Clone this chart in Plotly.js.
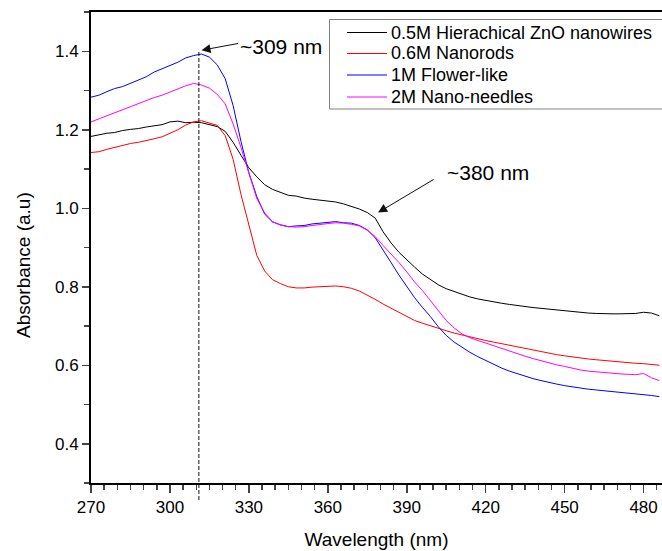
<!DOCTYPE html>
<html>
<head>
<meta charset="utf-8">
<script src="https://cdn.plot.ly/plotly-3.0.1.min.js"></script>
<style>html,body{margin:0;padding:0;background:#fff;}#chart{width:662px;height:551px;}</style>
</head>
<body>
<div id="chart"></div>
<script>
// Wavelength grid (nm)
const wavelength = [270,273,276,279,282,285,288,291,294,297,300,303,306,309,312,315,318,321,324,327,330,333,336,339,342,345,348,351,354,357,360,363,366,369,372,375,378,381,384,387,390,393,396,399,402,405,408,411,414,417,420,423,426,429,432,435,438,441,444,447,450,453,456,459,462,465,468,471,474,477,480,483,486];

const nanowires05M = [1.183,1.187,1.191,1.193,1.198,1.201,1.203,1.207,1.210,1.213,1.220,1.222,1.218,1.219,1.218,1.213,1.208,1.196,1.168,1.135,1.103,1.080,1.060,1.048,1.040,1.033,1.031,1.026,1.023,1.021,1.019,1.016,1.011,1.005,0.998,0.989,0.975,0.940,0.912,0.888,0.868,0.850,0.832,0.818,0.805,0.795,0.788,0.780,0.774,0.769,0.765,0.762,0.758,0.755,0.752,0.749,0.747,0.745,0.743,0.741,0.739,0.736,0.734,0.733,0.732,0.731,0.731,0.731,0.731,0.732,0.735,0.733,0.726];

const nanorods06M = [1.142,1.144,1.150,1.155,1.160,1.165,1.168,1.172,1.177,1.182,1.190,1.200,1.212,1.220,1.223,1.218,1.211,1.185,1.125,1.035,0.955,0.880,0.840,0.818,0.808,0.800,0.797,0.797,0.799,0.800,0.801,0.802,0.800,0.796,0.789,0.779,0.768,0.756,0.746,0.736,0.724,0.714,0.707,0.700,0.694,0.688,0.682,0.677,0.672,0.667,0.663,0.659,0.655,0.650,0.646,0.642,0.638,0.634,0.630,0.627,0.624,0.621,0.618,0.616,0.614,0.612,0.610,0.608,0.607,0.605,0.604,0.602,0.600];

const flower1M = [1.283,1.288,1.297,1.305,1.310,1.318,1.328,1.335,1.347,1.355,1.365,1.372,1.383,1.389,1.393,1.385,1.365,1.330,1.262,1.170,1.090,1.030,0.985,0.965,0.958,0.953,0.955,0.956,0.960,0.962,0.964,0.966,0.963,0.962,0.956,0.945,0.925,0.895,0.862,0.830,0.800,0.772,0.747,0.724,0.698,0.676,0.659,0.645,0.633,0.622,0.612,0.602,0.593,0.585,0.578,0.571,0.566,0.561,0.556,0.552,0.548,0.545,0.541,0.539,0.537,0.535,0.533,0.531,0.529,0.527,0.526,0.523,0.520];

const needles2M = [1.220,1.228,1.236,1.242,1.252,1.260,1.266,1.274,1.282,1.288,1.296,1.305,1.312,1.318,1.314,1.306,1.290,1.266,1.215,1.155,1.088,1.025,0.988,0.966,0.957,0.953,0.952,0.953,0.956,0.959,0.961,0.963,0.962,0.959,0.955,0.944,0.928,0.905,0.884,0.862,0.838,0.812,0.790,0.765,0.738,0.714,0.695,0.680,0.670,0.663,0.656,0.650,0.643,0.636,0.629,0.623,0.617,0.611,0.606,0.601,0.597,0.592,0.588,0.585,0.583,0.581,0.579,0.578,0.577,0.576,0.579,0.568,0.561];

const seriesNames = ["0.5M Hierachical ZnO nanowires","0.6M Nanorods","1M Flower-like","2M Nano-needles"];
const seriesColors = ["#000000","#ff0000","#0000ff","#ff00ff"];
const xTickVals = [270,300,330,360,390,420,450,480];

const xRange = [270, 487];
const yRange = [0.3, 1.5];
const peakLine = 311;

const W = 662, H = 551, M = {l: 91, r: 0, t: 12, b: 68};
const plotW = W - M.l - M.r, plotH = H - M.t - M.b;
// pixel -> paper helpers for decorations
const pxX = (p) => (p - M.l) / plotW;
const pxY = (p) => (H - M.b - p) / plotH;
const dataToPaperX = (v) => (v - xRange[0]) / (xRange[1] - xRange[0]);

const font = "Arial, 'Liberation Sans', sans-serif";
const allY = [nanowires05M, nanorods06M, flower1M, needles2M];
const traces = allY.map((ys, i) => ({
  x: wavelength, y: ys, type: 'scatter', mode: 'lines',
  name: seriesNames[i], line: {color: seriesColors[i], width: 1}
}));

// custom legend (box, line samples, labels) matching the reference layout
const legendRows = [32.5, 53.5, 75, 97];
const shapes = [
  {type: 'line', xref: 'paper', yref: 'paper',
   x0: dataToPaperX(peakLine), x1: dataToPaperX(peakLine), y0: pxY(52), y1: pxY(502),
   line: {color: '#111', width: 1, dash: '4px,2px'}},
  {type: 'rect', xref: 'paper', yref: 'paper', x0: pxX(329.5), x1: pxX(700), y0: pxY(19.5), y1: pxY(109),
   line: {color: '#808080', width: 1}, fillcolor: '#ffffff', layer: 'above'}
];
const legendAnn = [];
seriesNames.forEach((name, i) => {
  shapes.push({type: 'line', xref: 'paper', yref: 'paper', x0: pxX(347), x1: pxX(387),
    y0: pxY(legendRows[i]), y1: pxY(legendRows[i]), line: {color: seriesColors[i], width: 1}, layer: 'above'});
  legendAnn.push({xref: 'paper', yref: 'paper', x: pxX(389), y: pxY(legendRows[i]), text: name,
    showarrow: false, xanchor: 'left', yanchor: 'middle', font: {family: font, size: 18, color: '#000'}});
});

const layout = {
  width: W, height: H,
  margin: M,
  paper_bgcolor: '#fff', plot_bgcolor: '#fff',
  font: {family: font, color: '#000', size: 16},
  showlegend: false,
  xaxis: {
    range: xRange, tickvals: xTickVals, ticks: 'outside', ticklen: 8, tickwidth: 1.5,
    showline: true, linewidth: 2, linecolor: '#000', mirror: true,
    showgrid: false, zeroline: false,
    tickfont: {family: font, size: 17},
    minor: {dtick: 5, tick0: 270, ticks: 'outside', ticklen: 5, tickwidth: 1.5, showgrid: false},
    title: {text: 'Wavelength (nm)', font: {family: font, size: 19}, standoff: 16}
  },
  yaxis: {
    range: yRange, tick0: 0, dtick: 0.2, tickformat: '.1f', ticks: 'outside', ticklen: 7, tickwidth: 1.5,
    showline: true, linewidth: 2, linecolor: '#000', mirror: false,
    showgrid: false, zeroline: false,
    tickfont: {family: font, size: 17},
    minor: {dtick: 0.1, tick0: 0, ticks: 'outside', ticklen: 5, tickwidth: 1.5, showgrid: false}
  },
  shapes: shapes,
  annotations: [
    {xref: 'paper', yref: 'paper', x: pxX(23), y: pxY(265), text: 'Absorbance (a.u)', textangle: -90,
     showarrow: false, font: {family: font, size: 19}, xanchor: 'center', yanchor: 'middle'},
    {x: 312.0, y: 1.4026, xref: 'x', yref: 'y', text: '', showarrow: true, ax: 38, ay: -7,
     arrowhead: 2, arrowsize: 1.8, arrowwidth: 1, arrowcolor: '#111'},
    {x: 342.2, y: 1.413, xref: 'x', yref: 'y', text: '~309 nm', showarrow: false,
     font: {family: font, size: 21}, xanchor: 'center', yanchor: 'middle'},
    {x: 379.1, y: 0.989, xref: 'x', yref: 'y', text: '', showarrow: true, ax: 57, ay: -34,
     arrowhead: 2, arrowsize: 1.8, arrowwidth: 1, arrowcolor: '#111'},
    {x: 420.8, y: 1.0905, xref: 'x', yref: 'y', text: '~380 nm', showarrow: false,
     font: {family: font, size: 21}, xanchor: 'center', yanchor: 'middle'}
  ].concat(legendAnn)
};

Plotly.newPlot('chart', traces, layout, {staticPlot: true, displayModeBar: false});
</script>
</body>
</html>
